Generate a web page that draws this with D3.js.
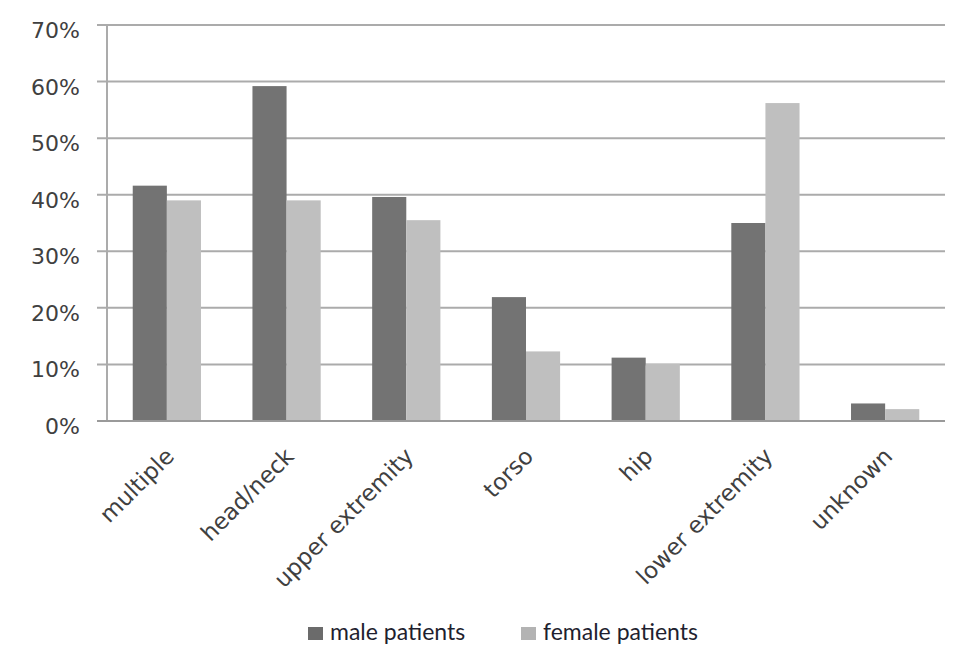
<!DOCTYPE html>
<html>
<head>
<meta charset="utf-8">
<script src="https://cdn.jsdelivr.net/npm/d3@7"></script>
<style>
  body { margin: 0; background: #fff; }
</style>
</head>
<body>
<div id="chart"></div>
<script>
// chart data
const categories = ["multiple", "head/neck", "upper extremity", "torso", "hip", "lower extremity", "unknown"];
const seriesNames = ["male patients", "female patients"];
const malePatients = [41.6, 59.2, 39.6, 21.9, 11.2, 35.0, 3.1];
const femalePatients = [39.0, 39.0, 35.5, 12.3, 10.1, 56.2, 2.1];
const yTicks = [0, 10, 20, 30, 40, 50, 60, 70];

// set the dimensions and margins of the graph
const W = 965, H = 664;
const margin = { top: 25, right: 20, bottom: 243, left: 107 },
    width = 945 - margin.left,
    height = 421 - margin.top;

const svg = d3.select("#chart")
    .append("svg")
    .attr("width", W)
    .attr("height", H)
    .append("g")
    .attr("transform", `translate(${margin.left},${margin.top})`);

const rows = categories.map((c, i) => ({ cat: c, values: [malePatients[i], femalePatients[i]] }));

// scales
const x0 = d3.scaleBand()
    .domain(categories)
    .range([0, width])
    .paddingInner(0.43)
    .paddingOuter(0.215);
const x1 = d3.scaleBand()
    .domain([0, 1])
    .range([0, x0.bandwidth()]);
const y = d3.scaleLinear()
    .domain([0, 70])
    .range([height, 0]);

const color = d3.scaleOrdinal()
    .domain([0, 1])
    .range(["#737373", "#bfbfbf"]);

// gridlines with the little ticks on the left
svg.append("g")
    .selectAll("line")
    .data(yTicks)
    .join("line")
    .attr("x1", -10)
    .attr("x2", width)
    .attr("y1", d => y(d))
    .attr("y2", d => y(d))
    .attr("stroke", "#ababab")
    .attr("stroke-width", 2);

// y labels
svg.append("g")
    .selectAll("text")
    .data(yTicks)
    .join("text")
    .attr("x", -27)
    .attr("y", d => y(d) + 13)
    .attr("text-anchor", "end")
    .attr("font-family", "DejaVu Sans")
    .attr("font-size", 22)
    .attr("fill", "#404040")
    .text(d => d + "%");

// bars
svg.append("g")
    .selectAll("g")
    .data(rows)
    .join("g")
    .attr("transform", d => `translate(${x0(d.cat)},0)`)
    .selectAll("rect")
    .data(d => d.values.map((v, k) => ({ k: k, v: v })))
    .join("rect")
    .attr("x", d => x1(d.k))
    .attr("width", x1.bandwidth())
    .attr("y", d => y(d.v))
    .attr("height", d => y(0) - y(d.v))
    .attr("fill", d => color(d.k));

// axis lines
svg.append("line")
    .attr("x1", 0).attr("x2", 0)
    .attr("y1", y(70)).attr("y2", y(0))
    .attr("stroke", "#ababab").attr("stroke-width", 2);
svg.append("line")
    .attr("x1", -10).attr("x2", width)
    .attr("y1", y(0)).attr("y2", y(0))
    .attr("stroke", "#9a9a9a").attr("stroke-width", 2);

// rotated category labels
svg.append("g")
    .selectAll("text")
    .data(categories)
    .join("text")
    .attr("transform", d => `translate(${x0(d) + x0.bandwidth() / 2 + 3},${height + 31}) rotate(-45)`)
    .attr("text-anchor", "end")
    .attr("dy", "0.35em")
    .attr("font-family", "DejaVu Sans")
    .attr("font-size", 23)
    .attr("fill", "#404040")
    .text(d => d);

// legend
const legendX = [308 - margin.left, 521 - margin.left];
const legend = svg.append("g")
    .selectAll("g")
    .data(seriesNames)
    .join("g")
    .attr("transform", (d, i) => `translate(${legendX[i]},${627 - margin.top})`);
legend.append("rect")
    .attr("width", 15)
    .attr("height", 13)
    .attr("fill", (d, i) => i === 0 ? "#6b6b6b" : "#b3b3b3");
legend.append("text")
    .attr("x", 22)
    .attr("y", 13)
    .attr("font-family", "Lato")
    .attr("font-size", 23)
    .attr("fill", "#1f1f2f")
    .text(d => d);
</script>
</body>
</html>
